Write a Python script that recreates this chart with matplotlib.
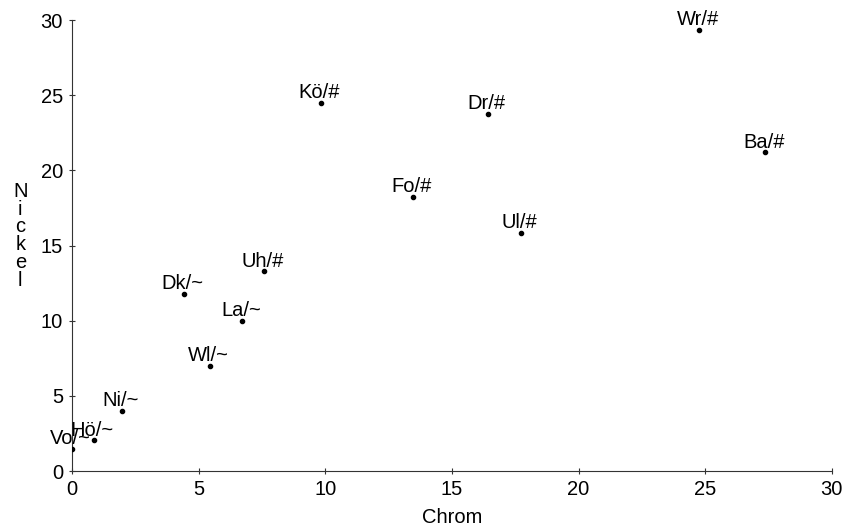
import matplotlib
matplotlib.use("Agg")
import matplotlib.pyplot as plt

# Daten: Chrom- und Nickelgehalt je Probe
namen = ["Vo/~", "Hö/~", "Ni/~", "Dk/~", "Wl/~", "La/~", "Uh/#",
         "Kö/#", "Fo/#", "Dr/#", "Ul/#", "Wr/#", "Ba/#"]
chrom = [0.0, 0.86, 1.96, 4.43, 5.45, 6.72, 7.57,
         9.82, 13.47, 16.43, 17.71, 24.77, 27.37]
nickel = [1.5, 2.04, 3.99, 11.81, 7.02, 9.97, 13.29,
          24.52, 18.23, 23.77, 15.86, 29.35, 21.2]
ticks = [0, 5, 10, 15, 20, 25, 30]

plt.rcParams['font.family'] = ['Liberation Sans', 'DejaVu Sans']
fs = 14.5

fig = plt.figure(figsize=(8.47, 5.30), dpi=100)
ax = fig.add_axes([0.085, 0.111, 0.897, 0.851])

ax.scatter(chrom, nickel, s=9, color="black", zorder=3)
for n, x, y in zip(namen, chrom, nickel):
    ax.annotate(n, (x, y), xytext=(-1, 3.5), textcoords="offset points",
                ha="center", va="baseline", fontsize=fs, color="black")

ax.set_xlim(0, 30)
ax.set_ylim(0, 30)
ax.set_xticks(ticks)
ax.set_yticks(ticks)
ax.tick_params(direction="inout", length=5, width=0.8, labelsize=fs,
               color="#333333", pad=4)

for s in ["top", "right"]:
    ax.spines[s].set_visible(False)
for s in ["left", "bottom"]:
    ax.spines[s].set_color("#333333")
    ax.spines[s].set_linewidth(0.8)

ax.set_xlabel("Chrom", fontsize=fs, labelpad=6)
fig.text(0.024, 0.555, "N\ni\nc\nk\ne\nl", fontsize=fs, ha="center",
         va="center", linespacing=0.92)

fig.savefig("out.png", dpi=100)
